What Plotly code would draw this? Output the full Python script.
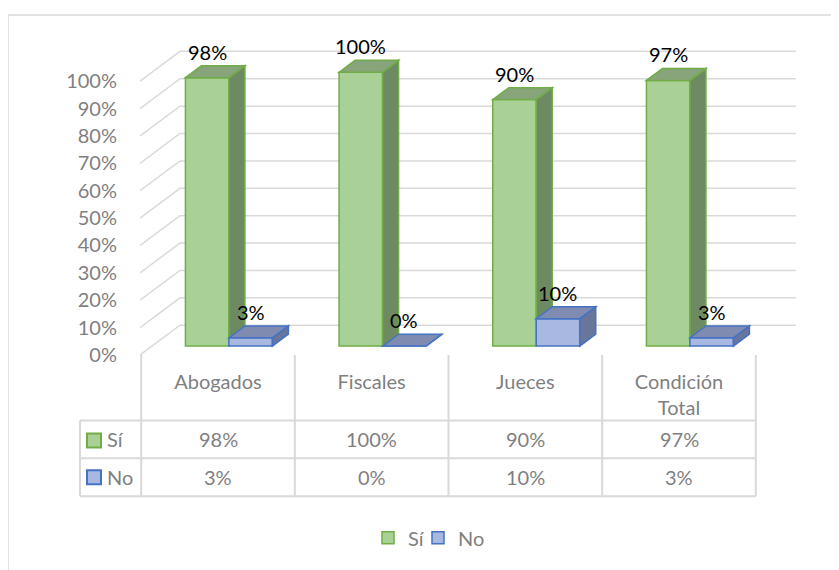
import plotly.graph_objects as go

# ---------------- data ----------------
categories = ["Abogados", "Fiscales", "Jueces", "Condición<br>Total"]
series_names = ["Sí", "No"]
si_values = [98, 100, 90, 97]
no_values = [3, 0, 10, 3]
y_ticks = [0, 10, 20, 30, 40, 50, 60, 70, 80, 90, 100]

# ---------------- layout constants (page pixels) ----------------
W, H = 839, 570
OX, OY = 8, 8            # page body margin offset
L, R, T, B = 140, 800, 30, 357
CAT_PX = 153.67          # pixels per category step
CAT0_PX = 218            # pixel x of first category centre
PCT_PX = 2.755           # pixels per percentage point
BASE_PX = 348            # pixel y of bar base (front face)

xr = [(L - CAT0_PX) / CAT_PX, (R - CAT0_PX) / CAT_PX]
yr = [-(B - BASE_PX) / PCT_PX, (BASE_PX - T) / PCT_PX]

WALL_DX, WALL_DY = 40 / CAT_PX, 30 / PCT_PX
BAR_DX, BAR_DY = 16 / CAT_PX, 12 / PCT_PX
BAR_W = 0.283
OFFSETS = [-0.212, 0.071]

FRONT = ["#aad195", "#a9b8e0"]
TOPC = ["#88a47a", "#7f8bb0"]
SIDE = ["#6e8a62", "#68769b"]
EDGE = ["#70ad47", "#4472c4"]
GRID = "#d9d9d9"
GRAY = "#7f7f7f"
FONT = "Lato"
LEGEND_X = [368, 418]


def py(p):
    return (B - p) / (B - T)


def px(p):
    return (p - L) / (R - L)


fig = go.Figure()
xs = list(range(len(categories)))
values = [si_values, no_values]
legend_ids = ["legend", "legend2"]

for s in range(2):
    fig.add_trace(go.Bar(
        x=xs, y=values[s], name=series_names[s], width=BAR_W, offset=OFFSETS[s],
        marker=dict(color=FRONT[s], line=dict(color=EDGE[s], width=1.5)),
        hoverinfo="skip", legend=legend_ids[s],
    ))

shapes = []
# gridlines on the walls (left side wall + back wall)
for v in y_ticks:
    fy = v + yr[0]
    by = fy + WALL_DY
    shapes.append(dict(
        type="path", xref="x", yref="y", layer="below",
        path=f"M {xr[0]},{fy} L {xr[0] + WALL_DX},{by} L {len(categories) - 0.5 + WALL_DX},{by}",
        line=dict(color=GRID, width=1.5),
    ))

# 3D faces of the bars
for s in range(2):
    for i in xs:
        v = values[s][i]
        x0 = i + OFFSETS[s]
        x1 = x0 + BAR_W
        lo = no_values[i] if s == 0 else 0
        shapes.append(dict(
            type="path", xref="x", yref="y", layer="above",
            path=(f"M {x1},{lo} L {x1 + BAR_DX},{lo + BAR_DY} "
                  f"L {x1 + BAR_DX},{v + BAR_DY} L {x1},{v} Z"),
            fillcolor=SIDE[s], line=dict(color=EDGE[s], width=1.5),
        ))
        shapes.append(dict(
            type="path", xref="x", yref="y", layer="above",
            path=(f"M {x0},{v} L {x0 + BAR_DX},{v + BAR_DY} "
                  f"L {x1 + BAR_DX},{v + BAR_DY} L {x1},{v} Z"),
            fillcolor=TOPC[s], line=dict(color=EDGE[s], width=1.5),
        ))

annotations = []
# data labels
for s in range(2):
    for i in xs:
        annotations.append(dict(
            x=i + OFFSETS[s] + BAR_W / 2, y=values[s][i], xref="x", yref="y",
            text=f"{values[s][i]}%", showarrow=False, yanchor="middle", yshift=26,
            font=dict(family=FONT, size=20, color="#000000"),
        ))

# data table
n = len(categories)
tbl_right = px(CAT0_PX + (n - 0.5) * CAT_PX)
row_lines = [423, 461, 499]
for p in row_lines:
    shapes.append(dict(type="line", xref="paper", yref="paper", x0=px(80), x1=tbl_right,
                       y0=py(p), y1=py(p), line=dict(color=GRID, width=2)))
for k in range(n + 1):
    xk = px(CAT0_PX + (k - 0.5) * CAT_PX)
    shapes.append(dict(type="line", xref="paper", yref="paper", x0=xk, x1=xk,
                       y0=py(357), y1=py(499), line=dict(color=GRID, width=2)))
shapes.append(dict(type="line", xref="paper", yref="paper", x0=px(80), x1=px(80),
                   y0=py(423), y1=py(499), line=dict(color=GRID, width=2)))

row_centers = [442, 480]
key_tops = [436, 473]
for s in range(2):
    shapes.append(dict(type="rect", xref="paper", yref="paper",
                       x0=px(87), x1=px(101), y0=py(key_tops[s]), y1=py(key_tops[s] + 14),
                       fillcolor=FRONT[s], line=dict(color=EDGE[s], width=2)))
    annotations.append(dict(x=px(105), y=py(row_centers[s]), xref="paper", yref="paper",
                            text=series_names[s], showarrow=False, xanchor="left",
                            yanchor="middle", font=dict(family=FONT, size=20, color=GRAY)))
    for i in xs:
        annotations.append(dict(x=i, y=py(row_centers[s]), xref="x", yref="paper",
                                text=f"{values[s][i]}%", showarrow=False,
                                yanchor="middle", font=dict(family=FONT, size=20, color=GRAY)))

# chart border
shapes.append(dict(type="rect", xref="paper", yref="paper",
                   x0=px(8), x1=px(860), y0=py(590), y1=py(15),
                   line=dict(color=GRID, width=1.5), fillcolor="rgba(0,0,0,0)", layer="below"))

legend_common = dict(orientation="h", xanchor="left", itemwidth=30,
                     y=py(541), yanchor="middle",
                     font=dict(family=FONT, size=20, color=GRAY),
                     bgcolor="rgba(0,0,0,0)")

fig.update_layout(
    width=W - OX, height=H - OY, autosize=False,
    margin=dict(l=L - OX, r=W - R, t=T - OY, b=H - B, pad=0),
    paper_bgcolor="white", plot_bgcolor="white",
    barmode="overlay",
    shapes=shapes, annotations=annotations,
    font=dict(family=FONT, size=20, color=GRAY),
    xaxis=dict(range=xr, tickvals=xs, ticktext=categories, showgrid=False, zeroline=False,
               showline=False, ticks="", ticklabelstandoff=13,
               tickfont=dict(family=FONT, size=20, color=GRAY), fixedrange=True),
    yaxis=dict(range=yr, tickvals=[v + yr[0] for v in y_ticks],
               ticktext=[f"{v}%" for v in y_ticks], showgrid=False, zeroline=False,
               showline=False, ticks="", ticklabelstandoff=22,
               tickfont=dict(family=FONT, size=20, color=GRAY), fixedrange=True),
    legend=dict(x=px(LEGEND_X[0]), **legend_common),
    legend2=dict(x=px(LEGEND_X[1]), **legend_common),
    showlegend=True,
)

fig.write_html("out.html")
